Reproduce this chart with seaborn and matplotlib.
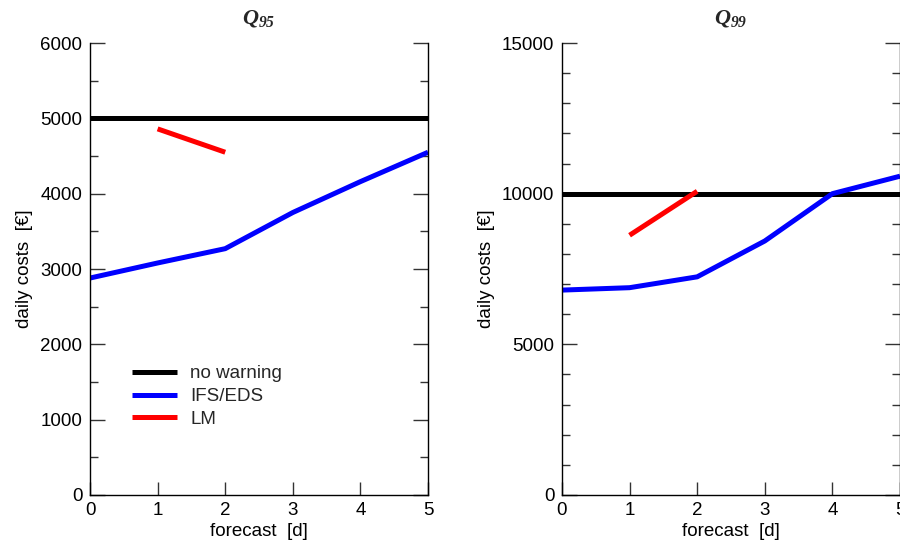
import matplotlib
matplotlib.use("Agg")
import matplotlib.pyplot as plt
from matplotlib.lines import Line2D
from matplotlib.ticker import MultipleLocator
import pandas as pd
import seaborn as sns

# forecast lead time in days
lead_days = [0, 1, 2, 3, 4, 5]
lm_days = [1, 2]

# Q95 panel: daily costs in EUR
q95_no_warning = [5000, 5000, 5000, 5000, 5000, 5000]
q95_ifs_eds = [2880, 3080, 3270, 3750, 4160, 4550]
q95_lm = [4860, 4550]

# Q99 panel: daily costs in EUR
q99_no_warning = [10000, 10000, 10000, 10000, 10000, 10000]
q99_ifs_eds = [6800, 6880, 7240, 8430, 10000, 10580]
q99_lm = [8620, 10080]

series_names = ["no warning", "IFS/EDS", "LM"]
series_colors = {"no warning": "#000000", "IFS/EDS": "#0000ff", "LM": "#ff0000"}

sns.set_theme(style="ticks")
plt.rcParams["font.family"] = ["Liberation Sans", "DejaVu Sans"]
plt.rcParams["mathtext.fontset"] = "custom"
plt.rcParams["mathtext.it"] = "Liberation Serif:italic:bold"
plt.rcParams["mathtext.rm"] = "Liberation Serif:italic:bold"

FS = 13.5


def long_frame(no_warning, ifs, lm):
    rows = []
    for d, v in zip(lead_days, no_warning):
        rows.append(("no warning", d, v))
    for d, v in zip(lead_days, ifs):
        rows.append(("IFS/EDS", d, v))
    for d, v in zip(lm_days, lm):
        rows.append(("LM", d, v))
    return pd.DataFrame(rows, columns=["series", "lead", "cost"])


fig = plt.figure(figsize=(9.0, 5.43), dpi=100)
ax1 = fig.add_axes([0.1, 0.0884, 0.3756, 0.8324])
ax2 = fig.add_axes([0.6244, 0.0884, 0.3756, 0.8324])

panels = [
    (ax1, long_frame(q95_no_warning, q95_ifs_eds, q95_lm), r"$Q_{95}$", 6000, 1000, 500),
    (ax2, long_frame(q99_no_warning, q99_ifs_eds, q99_lm), r"$Q_{99}$", 15000, 5000, 1000),
]

for ax, df, title, ymax, ymajor, yminor in panels:
    for name in series_names:
        sub = df[df["series"] == name]
        sns.lineplot(data=sub, x="lead", y="cost", color=series_colors[name],
                     lw=3.6, solid_capstyle="butt", ax=ax, legend=False)
    ax.set_xlim(0, 5)
    ax.set_ylim(0, ymax)
    ax.xaxis.set_major_locator(MultipleLocator(1))
    ax.yaxis.set_major_locator(MultipleLocator(ymajor))
    ax.yaxis.set_minor_locator(MultipleLocator(yminor))
    ax.spines["top"].set_visible(False)
    for s in ("left", "right", "bottom"):
        ax.spines[s].set_linewidth(1.0)
        ax.spines[s].set_color("black")
    ax.tick_params(axis="x", which="both", direction="in", top=False, bottom=True,
                   length=9.5, width=1.0, color="#333333", labelsize=FS, pad=5,
                   labelcolor="black")
    ax.tick_params(axis="y", which="major", direction="in", left=True, right=True,
                   length=10.5, width=1.0, color="#333333", labelsize=FS, pad=5.5,
                   labelcolor="black")
    ax.tick_params(axis="y", which="minor", direction="in", left=True, right=True,
                   length=5.5, width=1.0, color="#333333")
    ax.set_xlabel("forecast  [d]", fontsize=FS, labelpad=3, color="black")
    ax.set_ylabel("daily costs  [€]", fontsize=FS, labelpad=5, color="black")
    ax.set_title(title, fontsize=16, pad=14)

handles = [Line2D([], [], color=series_colors[n], lw=3.6, solid_capstyle="butt")
           for n in series_names]
ax1.legend(handles, series_names, loc="upper left", bbox_to_anchor=(0.108, 0.30),
           frameon=False, fontsize=FS, handlelength=2.4, handletextpad=0.7,
           labelspacing=0.31, borderpad=0.3, borderaxespad=0.0)

fig.savefig("out.png", dpi=100)
